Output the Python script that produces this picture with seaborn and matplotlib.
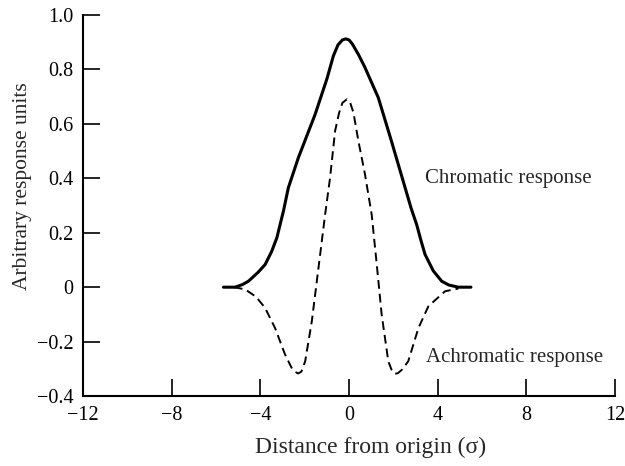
import matplotlib
matplotlib.use("Agg")
import matplotlib.pyplot as plt
import seaborn as sns
import pandas as pd

# ---- data ----
chrom_x = [-5.67, -5.14, -4.8, -4.54, -4.1, -3.79, -3.5, -3.26, -2.96, -2.74, -2.29,
           -1.53, -1.0, -0.71, -0.5, -0.3, -0.15, 0.0, 0.15, 0.42, 0.7, 1.32, 1.9,
           2.53, 2.8, 3.05, 3.25, 3.43, 3.8, 4.18, 4.5, 4.93, 5.5]
chrom_y = [0.0, 0.0, 0.01, 0.022, 0.055, 0.083, 0.13, 0.181, 0.28, 0.365, 0.475,
           0.635, 0.765, 0.849, 0.89, 0.908, 0.912, 0.908, 0.893, 0.855, 0.81, 0.696, 0.54,
           0.365, 0.29, 0.23, 0.17, 0.12, 0.06, 0.022, 0.008, 0.0, 0.0]

achrom_x = [-5.2, -4.69, -4.2, -3.79, -3.34, -2.89, -2.6, -2.45, -2.3, -2.15, -1.98,
            -1.68, -1.38, -1.08, -0.86, -0.63, -0.45, -0.3, -0.1, 0.05, 0.2, 0.42, 0.72,
            1.02, 1.25, 1.47, 1.77, 1.95, 2.07, 2.2, 2.4, 2.67, 3.13, 3.58, 4.33, 4.93]
achrom_y = [0.0, -0.008, -0.035, -0.076, -0.15, -0.247, -0.295, -0.31, -0.317, -0.31, -0.272,
            -0.125, 0.071, 0.267, 0.40, 0.574, 0.64, 0.677, 0.69, 0.678, 0.64, 0.537, 0.414,
            0.267, 0.083, -0.1, -0.272, -0.31, -0.318, -0.316, -0.302, -0.272, -0.15, -0.07,
            -0.015, -0.005]

series_names = ["Chromatic response", "Achromatic response"]
x_ticks = [-12, -8, -4, 0, 4, 8, 12]
x_ticklabels = ["\u221212", "\u22128", "\u22124", "0", "4", "8", "12"]
y_ticks = [-0.4, -0.2, 0, 0.2, 0.4, 0.6, 0.8, 1.0]
y_ticklabels = ["\u22120.4", "\u22120.2", "0", "0.2", "0.4", "0.6", "0.8", "1.0"]
x_label = "Distance from origin (\u03c3)"
y_label = "Arbitrary response units"

df = pd.concat([
    pd.DataFrame({"x": chrom_x, "y": chrom_y, "series": series_names[0]}),
    pd.DataFrame({"x": achrom_x, "y": achrom_y, "series": series_names[1]}),
])

sns.set_style("ticks")
plt.rcParams["font.family"] = ["Liberation Serif", "DejaVu Serif"]

fig = plt.figure(figsize=(6.25, 4.66), dpi=100)
ax = fig.add_axes([0.133, 0.150, 0.851, 0.818])

sns.lineplot(data=df, x="x", y="y", style="series", estimator=None, sort=False,
             dashes={series_names[0]: "", series_names[1]: (4.5, 2.6)},
             color="black", ax=ax, legend=False)
for line, lw in zip(ax.get_lines(), [2.2, 1.4]):
    line.set_linewidth(lw)
    line.set_solid_capstyle("round")
    line.set_solid_joinstyle("round")
    line.set_dash_joinstyle("round")

ax.set_xlim(-12, 12)
ax.set_ylim(-0.4, 1.0)
ax.set_xticks(x_ticks)
ax.set_xticklabels(x_ticklabels)
ax.set_yticks(y_ticks)
ax.set_yticklabels(y_ticklabels)
ax.tick_params(direction="in", length=12, width=1.2, labelsize=14.5, pad=7,
               colors="black")
for s in ["top", "right"]:
    ax.spines[s].set_visible(False)
for s in ["left", "bottom"]:
    ax.spines[s].set_linewidth(1.5)
    ax.spines[s].set_color("black")

ax.set_xlabel(x_label, fontsize=17)
ax.set_ylabel(y_label, fontsize=15.5)
ax.xaxis.set_label_coords(0.54, -0.108)
ax.yaxis.set_label_coords(-0.097, 0.55)

ax.text(3.43, 0.40, series_names[0], fontsize=15, va="center", ha="left")
ax.text(3.47, -0.26, series_names[1], fontsize=15, va="center", ha="left")

fig.savefig("out.png", dpi=100)
